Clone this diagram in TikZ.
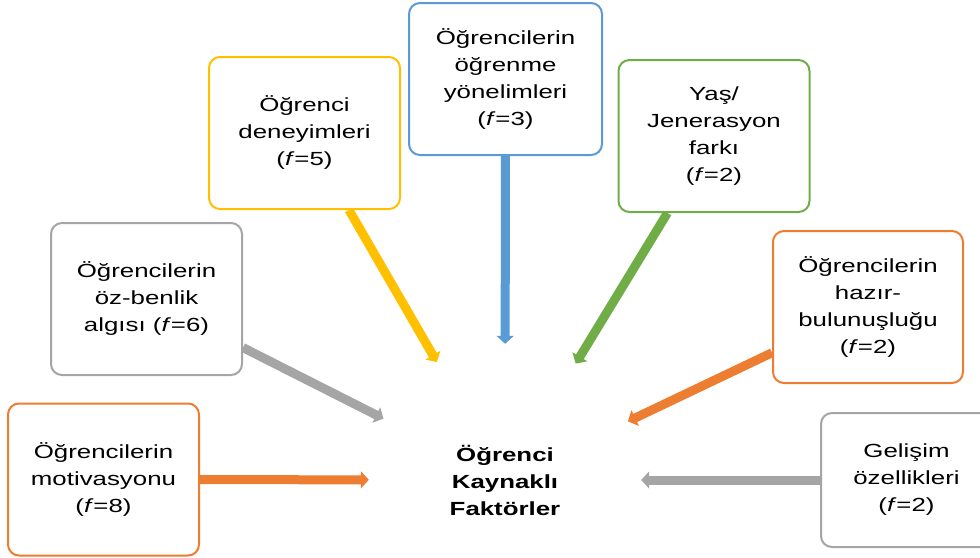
\documentclass[tikz,border=0pt]{standalone}
\usepackage{fontspec}
\newfontfamily\boxfont[FakeStretch=1.36]{Liberation Sans}
\usetikzlibrary{arrows.meta}
\definecolor{cOrange}{HTML}{ED7D31}
\definecolor{cGray}{HTML}{A5A5A5}
\definecolor{cYellow}{HTML}{FFC000}
\definecolor{cBlue}{HTML}{5B9BD5}
\definecolor{cGreen}{HTML}{70AD47}
\begin{document}
\begin{tikzpicture}[x=1pt,y=-1pt,
  factor/.style={draw=#1, line width=2pt, rounded corners=11pt, fill=white,
    minimum width=191pt, minimum height=152pt, inner sep=0pt, align=center,
    text=black, font=\boxfont\fontsize{19}{27}\selectfont},
  hubnode/.style={circle, minimum size=272pt, inner sep=0pt, align=center,
    text=black, font=\boxfont\bfseries\fontsize{19}{27}\selectfont},
  link/.style={draw=#1, line width=9pt, -{Triangle[width=17pt,length=8pt]}}]
\useasboundingbox (0,0) rectangle (980,557);
\clip (0,0) rectangle (980,557);

% central factor
\node[hubnode] (hub) at (505,480) {Öğrenci\\Kaynaklı\\Faktörler};

% surrounding factors
\node[factor=cOrange] (motiv) at (103.5,479.5) {Öğrencilerin\\motivasyonu\\(\textit{f}=8)};
\node[factor=cGray]   (self)  at (146.5,299)   {Öğrencilerin\\öz-benlik\\algısı (\textit{f}=6)};
\node[factor=cYellow] (exper) at (304.5,133)   {Öğrenci\\deneyimleri\\(\textit{f}=5)};
\node[factor=cBlue, minimum width=193pt] (orient) at (505.5,79) {Öğrencilerin\\öğrenme\\yönelimleri\\(\textit{f}=3)};
\node[factor=cGreen]  (age)   at (714,136)     {Yaş/\\Jenerasyon\\farkı\\(\textit{f}=2)};
\node[factor=cOrange, minimum width=190pt] (ready) at (868,307) {Öğrencilerin\\hazır-\\bulunuşluğu\\(\textit{f}=2)};
\node[factor=cGray, minimum width=171pt, minimum height=134pt] (devel) at (906.5,480) {Gelişim\\özellikleri\\(\textit{f}=2)};

% connectors toward the centre
\draw[link=cOrange] (motiv)  -- (hub);
\draw[link=cGray]   (self)   -- (hub);
\draw[link=cYellow] (exper)  -- (hub);
\draw[link=cBlue]   (orient) -- (hub);
\draw[link=cGreen]  (age)    -- (hub);
\draw[link=cOrange] (ready)  -- (hub);
\draw[link=cGray]   (devel)  -- (hub);
\end{tikzpicture}
\end{document}
